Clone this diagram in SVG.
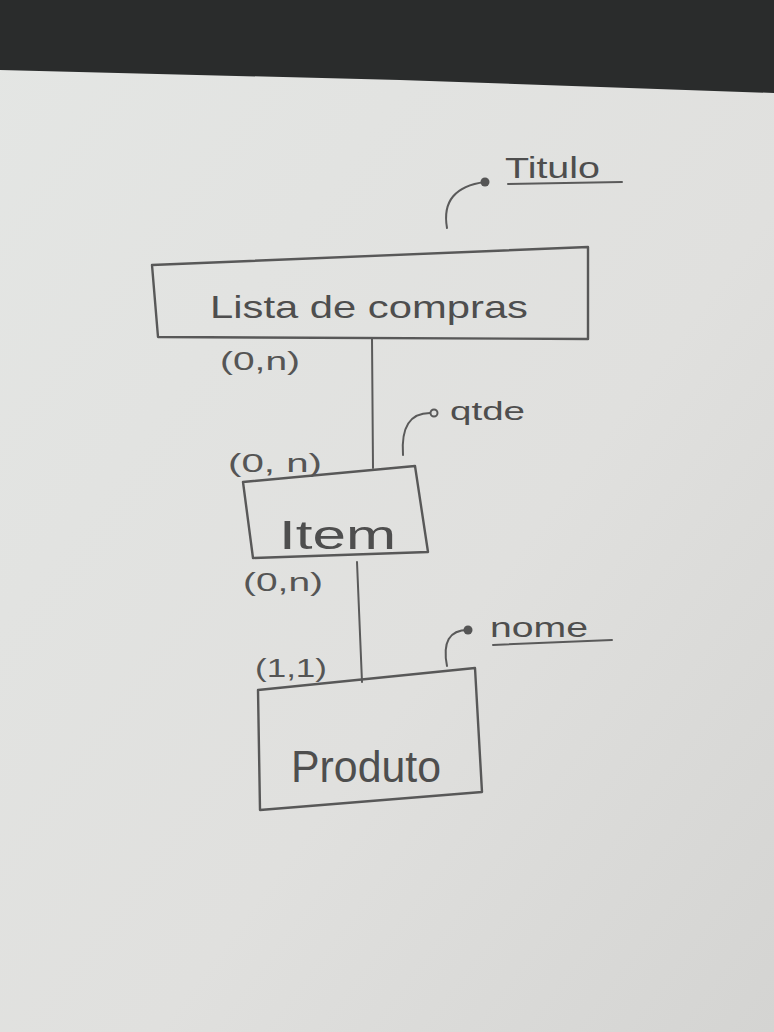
<svg xmlns="http://www.w3.org/2000/svg" width="774" height="1032" viewBox="0 0 774 1032">
<defs>
<linearGradient id="paper" x1="0" y1="0" x2="1" y2="1">
<stop offset="0" stop-color="#e4e6e4"/>
<stop offset="0.6" stop-color="#e0e0de"/>
<stop offset="1" stop-color="#d4d4d2"/>
</linearGradient>
<style>
.ent{fill:none;stroke:#585858;stroke-width:2.4;stroke-linejoin:round}
.ln{fill:none;stroke:#5a5a5a;stroke-width:2;stroke-linecap:round}
.txt{font-family:"Liberation Sans",Arial,sans-serif;fill:#4e4e4e}
.card{font-family:"Liberation Sans",Arial,sans-serif;fill:#555;font-size:26px}
.key{fill:#555}
.opt{fill:none;stroke:#5a5a5a;stroke-width:2}
</style>
</defs>
<rect x="0" y="0" width="774" height="1032" fill="url(#paper)"/>
<polygon points="0,0 774,0 774,93 400,80 0,70" fill="#2a2c2c"/>

<g id="connectors">
<line class="ln" x1="372" y1="338" x2="373" y2="468"/>
<line class="ln" x1="357" y1="562" x2="362" y2="682"/>
</g>

<g id="lista">
<polygon class="ent" points="152,265 588,247 588,339 158,337"/>
<text class="txt" x="210" y="318" font-size="32" textLength="318" lengthAdjust="spacingAndGlyphs">Lista de compras</text>
<text class="card" x="220" y="370" textLength="80" lengthAdjust="spacingAndGlyphs">(0,n)</text>
</g>

<g id="titulo">
<path class="ln" d="M447,228 Q440,188 485,182"/>
<circle class="key" cx="485" cy="182" r="4.5"/>
<text class="txt" x="505" y="178" font-size="30" textLength="95" lengthAdjust="spacingAndGlyphs">Titulo</text>
<line class="ln" x1="508" y1="184" x2="622" y2="182"/>
</g>

<g id="item">
<polygon class="ent" points="243,482 415,466 428,552 253,558"/>
<text class="txt" x="279" y="549" font-size="40" textLength="117" lengthAdjust="spacingAndGlyphs">Item</text>
<text class="card" x="228" y="472" textLength="94" lengthAdjust="spacingAndGlyphs">(0, n)</text>
<text class="card" x="243" y="591" textLength="80" lengthAdjust="spacingAndGlyphs">(0,n)</text>
</g>

<g id="qtde">
<path class="ln" d="M403,455 Q400,413 430,413"/>
<circle class="opt" cx="434" cy="413" r="3.5"/>
<text class="txt" x="450" y="420" font-size="26" textLength="75" lengthAdjust="spacingAndGlyphs">qtde</text>
</g>

<g id="produto">
<polygon class="ent" points="258,690 475,668 482,792 260,810"/>
<text class="txt" x="291" y="782" font-size="44" textLength="150" lengthAdjust="spacingAndGlyphs">Produto</text>
<text class="card" x="255" y="677" textLength="72" lengthAdjust="spacingAndGlyphs">(1,1)</text>
</g>

<g id="nome">
<path class="ln" d="M447,666 Q440,630 468,630"/>
<circle class="key" cx="468" cy="630" r="4.5"/>
<text class="txt" x="490" y="637" font-size="28" textLength="98" lengthAdjust="spacingAndGlyphs">nome</text>
<line class="ln" x1="493" y1="645" x2="612" y2="640"/>
</g>
</svg>
